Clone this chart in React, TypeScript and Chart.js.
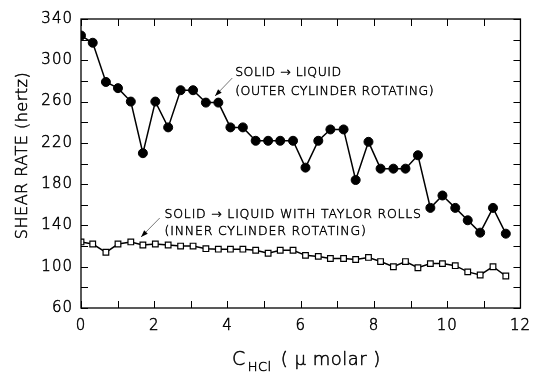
import React, { useEffect, useRef } from "react";
import { Chart, registerables } from "chart.js";

Chart.register(...registerables);

// HCl concentration (µmolar)
const concentration = [
  0.0, 0.32, 0.68, 1.01, 1.36, 1.69, 2.03, 2.38, 2.72, 3.06,
  3.41, 3.75, 4.08, 4.42, 4.77, 5.11, 5.44, 5.79, 6.13, 6.48,
  6.81, 7.17, 7.5, 7.85, 8.18, 8.53, 8.86, 9.2, 9.54, 9.87,
  10.22, 10.56, 10.9, 11.25, 11.6,
];

// Solid -> liquid (outer cylinder rotating), shear rate in hertz
const outerRotating = [
  324, 317, 279, 273, 260, 210, 260, 235, 271, 271,
  259, 259, 235, 235, 222, 222, 222, 222, 196, 222,
  233, 233, 184, 221, 195, 195, 195, 208, 157, 169,
  157, 145, 133, 157, 132,
];

// Solid -> liquid with Taylor rolls (inner cylinder rotating)
const innerRotating = [
  124, 122, 114, 122, 124, 121, 122, 121, 120, 120,
  117.5, 117, 117, 117, 116, 113, 116, 116, 111, 110,
  108, 108, 107, 109, 105, 100, 105, 99, 103, 103,
  101, 95, 92, 100, 91,
];

const xTickValues = [0, 1, 2, 3, 4, 5, 6, 7, 8, 9, 10, 11, 12];
const yTickValues = [60, 80, 100, 120, 140, 160, 180, 200, 220, 240, 260, 280, 300, 320, 340];

const yTitle = "SHEAR RATE (hertz)";
const xTitleMain = "C";
const xTitleSub = "HCl";
const xTitleUnit = "( \u03bc molar )";

const outerLabelLines = ["SOLID \u2192 LIQUID", "(OUTER CYLINDER ROTATING)"];
const innerLabelLines = ["SOLID \u2192 LIQUID WITH TAYLOR ROLLS", "(INNER CYLINDER ROTATING)"];

// annotation anchors, in data units
const outerLabelAt = { x: 4.21, y1: 287.7, y2: 269.3 };
const outerPointer = { x0: 4.13, y0: 282.8, x1: 3.66, y1: 265.4 };
const innerLabelAt = { x: 2.28, y1: 150.1, y2: 133.9 };
const innerPointer = { x0: 2.15, y0: 147.2, x1: 1.64, y1: 128.8 };

const FONT = "'DejaVu Sans', 'Liberation Sans', sans-serif";

const spacingPlugin = {
  id: "spacing",
  beforeDraw(chart: any) {
    chart.ctx.letterSpacing = "1px";
  },
};

const decorPlugin = {
  id: "decor",
  afterDraw(chart: any) {
    const { ctx, chartArea: a } = chart;
    const xs = chart.scales.x;
    const ys = chart.scales.y;
    ctx.save();
    ctx.strokeStyle = "#000";
    ctx.lineWidth = 1.3;
    ctx.strokeRect(a.left, a.top, a.right - a.left, a.bottom - a.top);
    ctx.lineWidth = 1;
    const tl = 7;
    ctx.beginPath();
    xTickValues.forEach((v) => {
      const px = Math.round(xs.getPixelForValue(v)) + 0.5;
      ctx.moveTo(px, a.bottom);
      ctx.lineTo(px, a.bottom - tl);
      ctx.moveTo(px, a.top);
      ctx.lineTo(px, a.top + tl);
    });
    yTickValues.forEach((v) => {
      const py = Math.round(ys.getPixelForValue(v)) + 0.5;
      ctx.moveTo(a.left, py);
      ctx.lineTo(a.left + tl, py);
      ctx.moveTo(a.right, py);
      ctx.lineTo(a.right - tl, py);
    });
    ctx.stroke();

    const txt = (s: string, x: number, y: number) => {
      ctx.fillText(s, x, y);
      ctx.strokeText(s, x, y);
    };
    ctx.fillStyle = "#000";
    ctx.strokeStyle = "#000";
    ctx.lineWidth = 0.5;
    ctx.lineJoin = "round";

    // y title
    ctx.save();
    ctx.letterSpacing = "0.5px";
    ctx.translate(23, (a.top + a.bottom) / 2 - 8);
    ctx.rotate(-Math.PI / 2);
    ctx.font = `300 16px ${FONT}`;
    ctx.textAlign = "center";
    ctx.textBaseline = "middle";
    txt(yTitle, 0, 0);
    ctx.restore();

    // x title
    ctx.letterSpacing = "0.5px";
    ctx.textBaseline = "alphabetic";
    ctx.textAlign = "left";
    ctx.font = `300 19px ${FONT}`;
    const baseY = 365;
    let cx = 232;
    txt(xTitleMain, cx, baseY);
    cx += ctx.measureText(xTitleMain).width + 2;
    ctx.font = `300 13px ${FONT}`;
    txt(xTitleSub, cx, baseY + 6);
    cx += ctx.measureText(xTitleSub).width + 9;
    ctx.font = `300 18px ${FONT}`;
    txt(xTitleUnit, cx, baseY);

    // annotations
    const drawLabel = (lines: string[], at: any, ptr: any, spacing: string) => {
      ctx.letterSpacing = spacing;
      ctx.font = `300 12.5px ${FONT}`;
      ctx.fillStyle = "#000";
      ctx.strokeStyle = "#000";
      ctx.lineWidth = 0.45;
      ctx.textBaseline = "middle";
      ctx.textAlign = "left";
      txt(lines[0], xs.getPixelForValue(at.x), ys.getPixelForValue(at.y1));
      txt(lines[1], xs.getPixelForValue(at.x), ys.getPixelForValue(at.y2));
      const x0 = xs.getPixelForValue(ptr.x0);
      const y0 = ys.getPixelForValue(ptr.y0);
      const x1 = xs.getPixelForValue(ptr.x1);
      const y1 = ys.getPixelForValue(ptr.y1);
      ctx.strokeStyle = "#555";
      ctx.lineWidth = 0.8;
      ctx.beginPath();
      ctx.moveTo(x0, y0);
      ctx.lineTo(x1, y1);
      ctx.stroke();
      const ang = Math.atan2(y1 - y0, x1 - x0);
      const L = 7;
      const W = 2.5;
      ctx.beginPath();
      ctx.moveTo(x1, y1);
      ctx.lineTo(x1 - L * Math.cos(ang) + W * Math.sin(ang), y1 - L * Math.sin(ang) - W * Math.cos(ang));
      ctx.lineTo(x1 - L * Math.cos(ang) - W * Math.sin(ang), y1 - L * Math.sin(ang) + W * Math.cos(ang));
      ctx.closePath();
      ctx.fill();
    };
    drawLabel(outerLabelLines, outerLabelAt, outerPointer, "0.5px");
    drawLabel(innerLabelLines, innerLabelAt, innerPointer, "0.8px");
    ctx.restore();
  },
};

export default function App() {
  const ref = useRef<HTMLCanvasElement | null>(null);
  useEffect(() => {
    if (!ref.current) return;
    const chart = new Chart(ref.current, {
      type: "line",
      data: {
        datasets: [
          {
            label: "outer",
            data: concentration.map((x, i) => ({ x, y: outerRotating[i] })),
            borderColor: "#000",
            backgroundColor: "#000",
            borderWidth: 1.5,
            pointRadius: 4.5,
            pointStyle: "circle",
            pointBorderWidth: 1,
            pointBorderColor: "#000",
            pointBackgroundColor: "#000",
            tension: 0,
          },
          {
            label: "inner",
            data: concentration.map((x, i) => ({ x, y: innerRotating[i] })),
            borderColor: "#000",
            backgroundColor: "#fff",
            borderWidth: 1.5,
            pointRadius: 4,
            pointStyle: "rect",
            pointBorderWidth: 1.2,
            pointBorderColor: "#000",
            pointBackgroundColor: "#fff",
            tension: 0,
          },
        ],
      },
      options: {
        responsive: false,
        animation: false,
        layout: { padding: { left: 0, right: 5, top: 19, bottom: 0 } },
        plugins: { legend: { display: false }, tooltip: { enabled: false } },
        scales: {
          x: {
            type: "linear",
            min: 0,
            max: 12,
            ticks: {
              stepSize: 2,
              color: "#000",
              font: { family: FONT, size: 15, weight: "300" },
              textStrokeColor: "#000",
              textStrokeWidth: 0.5,
              padding: 9,
              maxRotation: 0,
            },
            grid: { display: false, drawTicks: false },
            border: { display: false },
            afterFit: (s: any) => {
              s.height = 64;
            },
          },
          y: {
            min: 60,
            max: 340,
            ticks: {
              stepSize: 40,
              color: "#000",
              font: { family: FONT, size: 15, weight: "300" },
              textStrokeColor: "#000",
              textStrokeWidth: 0.5,
              padding: 8,
            },
            grid: { display: false, drawTicks: false },
            border: { display: false },
            afterFit: (s: any) => {
              s.width = 81;
            },
          },
        },
      },
      plugins: [spacingPlugin, decorPlugin],
    } as any);
    return () => chart.destroy();
  }, []);
  return (
    <div style={{ position: "absolute", left: 0, top: 0, width: 539, height: 372, background: "#fff" }}>
      <canvas ref={ref} width={539} height={372} />
    </div>
  );
}
